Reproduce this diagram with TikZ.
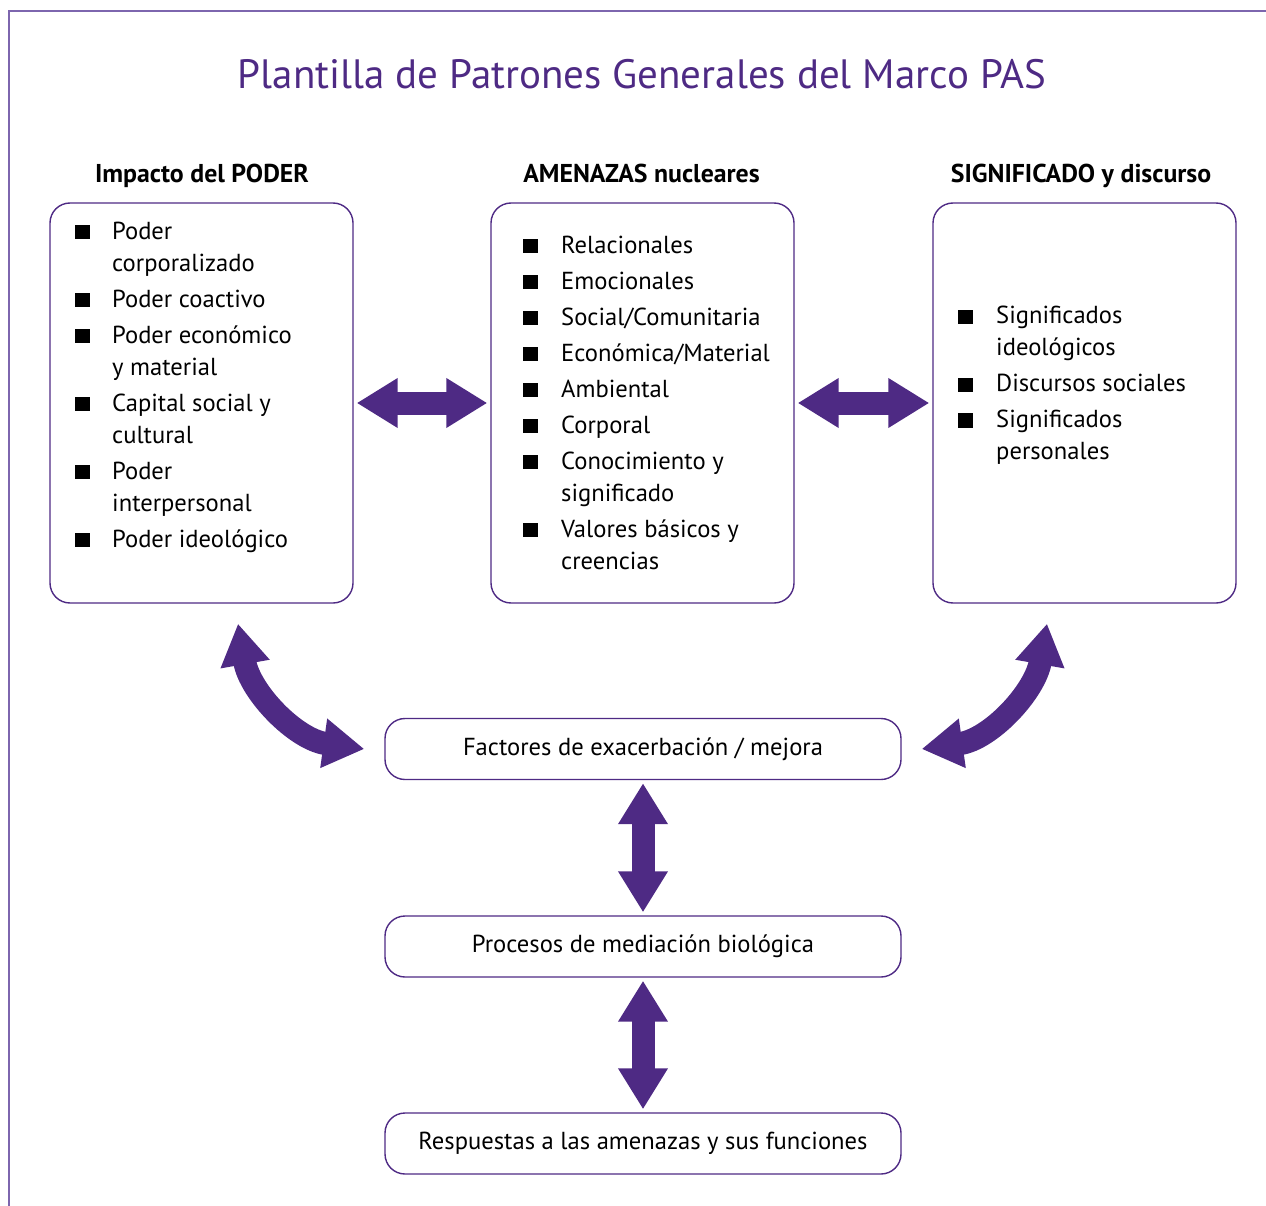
\documentclass[tikz,border=0pt]{standalone}
\usepackage{fontspec}
\setmainfont{PT Sans}
\usepackage{tikz}
\usetikzlibrary{
    arrows.meta,
    positioning,
    calc
}
\definecolor{pasviolet}{HTML}{4E2A84}
\definecolor{paslilac}{HTML}{7D66AE}
\newcommand{\sqbul}{\rule{15pt}{14pt}}
\newcommand{\bodyfont}{\fontsize{24.6}{32}\selectfont}
\tikzset{
    panel/.style={draw=pasviolet, line width=1.4pt, rounded corners=20pt,
        minimum width=303pt, minimum height=400pt, inner sep=0pt},
    stage/.style={draw=pasviolet, line width=1.4pt, rounded corners=20pt,
        minimum width=516pt, minimum height=61pt, inner sep=0pt, font=\bodyfont},
    heading/.style={anchor=base, inner sep=0pt, font=\fontsize{25.8}{30}\selectfont\bfseries},
    bullets/.style={anchor=base west, inner sep=0pt, font=\bodyfont},
    fatarrow/.style={draw=pasviolet, line width=23pt,
        {Triangle[length=41pt,width=47pt]}-{Triangle[length=41pt,width=47pt]}},
    gap/.style={shorten <=3pt, shorten >=3pt}
}

\begin{document}
\begin{tikzpicture}[x=1pt, y=1pt]
    \useasboundingbox (0,0) rectangle (1266,-1206);
    % frame and title
    \draw[paslilac, line width=1.5pt] (9,-1206) -- (9,-11) -- (1266,-11);
    \node[anchor=base, inner sep=0pt, text=pasviolet,
        font=\fontsize{41}{46}\selectfont] (title) at (642,-89)
        {Plantilla de Patrones Generales del Marco PAS};

    % three panels
    \node[panel] (poder) at (201.5,-403) {};
    \node[panel] (amenazas) at (642.5,-403) {};
    \node[panel] (significado) at (1084.5,-403) {};

    \node[heading] (hpoder) at (202,-183) {Impacto del PODER};
    \node[heading] (hamenazas) at (641.5,-183) {AMENAZAS nucleares};
    \node[heading] (hsignificado) at (1081,-183) {SIGNIFICADO y discurso};

    \node[bullets] (lpoder) at (75,-239.5) {%
        \begin{tabular}[t]{@{}l@{\hspace{22pt}}l@{}}
            \sqbul & Poder\\
                   & corporalizado\\[4pt]
            \sqbul & Poder coactivo\\[4pt]
            \sqbul & Poder económico\\
                   & y material\\[4pt]
            \sqbul & Capital social y\\
                   & cultural\\[4pt]
            \sqbul & Poder\\
                   & interpersonal\\[4pt]
            \sqbul & Poder ideológico
        \end{tabular}};
    \node[bullets] (lamenazas) at (523,-253.5) {%
        \begin{tabular}[t]{@{}l@{\hspace{23pt}}l@{}}
            \sqbul & Relacionales\\[4pt]
            \sqbul & Emocionales\\[4pt]
            \sqbul & Social/Comunitaria\\[4pt]
            \sqbul & Económica/Material\\[4pt]
            \sqbul & Ambiental\\[4pt]
            \sqbul & Corporal\\[4pt]
            \sqbul & Conocimiento y\\
                   & significado\\[4pt]
            \sqbul & Valores básicos y\\
                   & creencias
        \end{tabular}};
    \node[bullets] (lsignificado) at (958,-323.5) {%
        \begin{tabular}[t]{@{}l@{\hspace{23pt}}l@{}}
            \sqbul & Significados\\
                   & ideológicos\\[4pt]
            \sqbul & Discursos sociales\\[4pt]
            \sqbul & Significados\\
                   & personales
        \end{tabular}};

    % lower chain
    \node[stage] (factores) at (643,-749) {Factores de exacerbación / mejora};
    \node[stage] (procesos) at (643,-946.5) {Procesos de mediación biológica};
    \node[stage] (respuestas) at (643,-1143.5) {Respuestas a las amenazas y sus funciones};

    % arrows
    \draw[fatarrow, gap] (poder) -- (amenazas);
    \draw[fatarrow, gap] (amenazas) -- (significado);
    \draw[fatarrow, gap] (factores) -- (procesos);
    \draw[fatarrow, gap] (procesos) -- (respuestas);
    \draw[fatarrow] ([xshift=36.5pt, yshift=-20pt]poder.south)
        to[out=-80, in=172] ([xshift=-20pt]factores.west);
    \draw[fatarrow] ([xshift=-37.5pt, yshift=-20pt]significado.south)
        to[out=-100, in=8] ([xshift=20pt]factores.east);
\end{tikzpicture}
\end{document}
